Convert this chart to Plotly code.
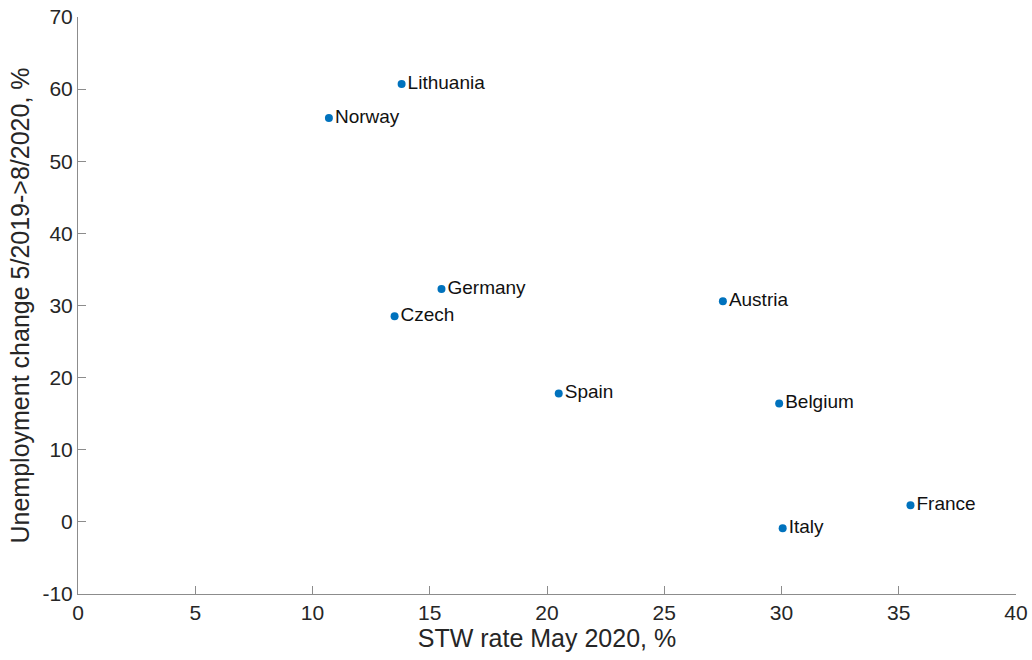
import plotly.graph_objects as go

countries = ["Lithuania", "Norway", "Germany", "Czech", "Austria", "Spain", "Belgium", "France", "Italy"]
stw_rate = [13.8, 10.7, 15.5, 13.5, 27.5, 20.5, 29.9, 35.5, 30.05]
unemp_change = [60.7, 56.0, 32.3, 28.5, 30.6, 17.8, 16.4, 2.3, -0.9]
x_ticks = [0, 5, 10, 15, 20, 25, 30, 35, 40]
y_ticks = [-10, 0, 10, 20, 30, 40, 50, 60, 70]

font_family = "Liberation Sans, Arial, sans-serif"

fig = go.Figure(go.Scatter(
    x=stw_rate, y=unemp_change, mode="markers+text",
    text=countries, textposition="middle right",
    marker=dict(color="#0072BD", size=8),
    textfont=dict(size=19, color="#111111", family=font_family),
    cliponaxis=False,
))

axis_common = dict(
    showline=True, linecolor="#8c8c8c", linewidth=1,
    ticks="inside", ticklen=8, tickcolor="#8c8c8c", tickwidth=1,
    showgrid=False, zeroline=False, mirror=False,
    tickfont=dict(size=21, color="#262626", family=font_family),
    title_font=dict(size=25, color="#262626", family=font_family),
)

fig.update_layout(
    width=1032, height=660,
    margin=dict(l=78, r=16, t=17, b=66, autoexpand=False),
    paper_bgcolor="white", plot_bgcolor="white",
    showlegend=False,
    xaxis=dict(range=[0, 40], tickvals=x_ticks, ticktext=[str(v) for v in x_ticks],
               title=dict(text="STW rate May 2020, %", standoff=6), **axis_common),
    yaxis=dict(range=[-10, 70], tickvals=y_ticks, ticktext=[str(v) for v in y_ticks],
               title=dict(text="Unemployment change 5/2019->8/2020, %", standoff=5), **axis_common),
)

fig.write_html("out.html", config={"displayModeBar": False},
               post_script="document.body.style.margin='0';document.body.style.overflow='hidden';")
